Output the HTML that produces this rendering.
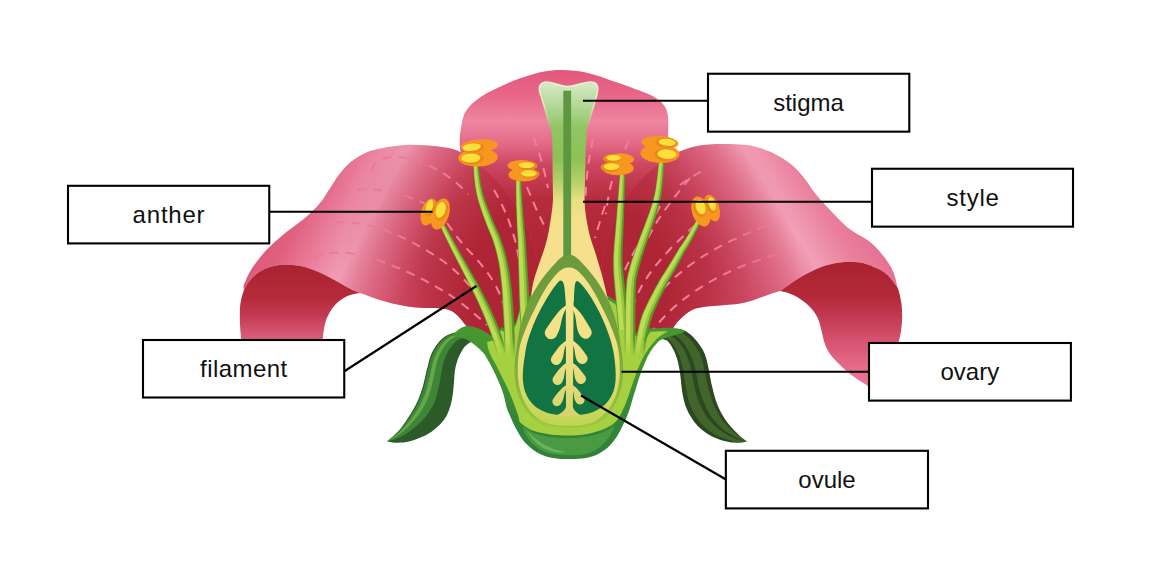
<!DOCTYPE html>
<html lang="en">
<head>
<meta charset="utf-8">
<title>Flower parts diagram</title>
<style>
  html, body { margin: 0; padding: 0; background: #ffffff; }
  body { width: 1168px; height: 561px; overflow: hidden; position: relative; }
  svg { position: absolute; left: 0; top: 0; display: block; }
  .lbl { font-family: "Liberation Sans", sans-serif; font-size: 24px; fill: #111111; text-anchor: middle; }
  .box { fill: #ffffff; stroke: #000000; stroke-width: 2.1; }
  .ln { stroke: #000000; stroke-width: 2.1; fill: none; }
  .dash { fill: none; stroke: url(#gDash); stroke-width: 2; stroke-dasharray: 9 7; stroke-linecap: butt; }
</style>
</head>
<body>
<svg width="1168" height="561" viewBox="0 0 1168 561">
<defs>
  <!-- PETAL GRADIENTS -->
  <linearGradient id="gBack" gradientUnits="userSpaceOnUse" x1="0" y1="70" x2="0" y2="260">
    <stop offset="0" stop-color="#e3577a"/>
    <stop offset="0.13" stop-color="#e86689"/>
    <stop offset="0.27" stop-color="#ee86a0"/>
    <stop offset="0.38" stop-color="#e56c89"/>
    <stop offset="0.5" stop-color="#cd4661"/>
    <stop offset="0.68" stop-color="#b62c3d"/>
    <stop offset="1" stop-color="#ad2433"/>
  </linearGradient>
  <linearGradient id="gLeft" gradientUnits="userSpaceOnUse" x1="250" y1="180" x2="471" y2="296">
    <stop offset="0" stop-color="#d94e6e"/>
    <stop offset="0.25" stop-color="#e0607f"/>
    <stop offset="0.41" stop-color="#ec88a4"/>
    <stop offset="0.5" stop-color="#f2a0b8"/>
    <stop offset="0.6" stop-color="#e9809c"/>
    <stop offset="0.76" stop-color="#da5c79"/>
    <stop offset="1" stop-color="#d04e6c"/>
  </linearGradient>
  <linearGradient id="gRight" gradientUnits="userSpaceOnUse" x1="920" y1="130" x2="708" y2="262">
    <stop offset="0" stop-color="#dc5676"/>
    <stop offset="0.3" stop-color="#e3668a"/>
    <stop offset="0.5" stop-color="#ea7f9c"/>
    <stop offset="0.64" stop-color="#f2a0b8"/>
    <stop offset="0.76" stop-color="#e67892"/>
    <stop offset="0.9" stop-color="#d95a78"/>
    <stop offset="1" stop-color="#d04e6c"/>
  </linearGradient>
  <linearGradient id="gUnderL" gradientUnits="userSpaceOnUse" x1="0" y1="262" x2="0" y2="400">
    <stop offset="0" stop-color="#a9222f"/>
    <stop offset="0.25" stop-color="#b42a3b"/>
    <stop offset="0.385" stop-color="#c23a52"/>
    <stop offset="0.49" stop-color="#d2506d"/>
    <stop offset="0.58" stop-color="#dd6280"/>
    <stop offset="1" stop-color="#ea6c8c"/>
  </linearGradient>
  <linearGradient id="gUnderR" gradientUnits="userSpaceOnUse" x1="0" y1="260" x2="0" y2="390">
    <stop offset="0" stop-color="#a9222f"/>
    <stop offset="0.28" stop-color="#b32939"/>
    <stop offset="0.45" stop-color="#c43c55"/>
    <stop offset="0.65" stop-color="#d95674"/>
    <stop offset="0.85" stop-color="#e86d8d"/>
    <stop offset="1" stop-color="#ee7898"/>
  </linearGradient>
  <!-- PISTIL GRADIENTS -->
  <linearGradient id="gStyle" gradientUnits="userSpaceOnUse" x1="0" y1="84" x2="0" y2="260">
    <stop offset="0" stop-color="#d3e9c4"/>
    <stop offset="0.1" stop-color="#b9dba0"/>
    <stop offset="0.25" stop-color="#90c564"/>
    <stop offset="0.42" stop-color="#8bc155"/>
    <stop offset="0.55" stop-color="#b4cf68"/>
    <stop offset="0.66" stop-color="#e6e082"/>
    <stop offset="0.78" stop-color="#f5e08c"/>
    <stop offset="1" stop-color="#f6e08d"/>
  </linearGradient>
  <linearGradient id="gFade" gradientUnits="userSpaceOnUse" x1="0" y1="338" x2="0" y2="357">
    <stop offset="0" stop-color="#fff"/>
    <stop offset="1" stop-color="#000"/>
  </linearGradient>
  <mask id="mFil" maskUnits="userSpaceOnUse" x="400" y="100" width="340" height="300">
    <rect x="400" y="100" width="340" height="300" fill="url(#gFade)"/>
  </mask>
  <linearGradient id="gRim" gradientUnits="userSpaceOnUse" x1="0" y1="82" x2="0" y2="128">
    <stop offset="0" stop-color="#e9f2cf"/>
    <stop offset="0.5" stop-color="#e3efc4" stop-opacity=".9"/>
    <stop offset="1" stop-color="#cfe6a0" stop-opacity="0"/>
  </linearGradient>
  <linearGradient id="gYel" gradientUnits="userSpaceOnUse" x1="0" y1="268" x2="0" y2="421">
    <stop offset="0" stop-color="#f6e28a"/>
    <stop offset="0.45" stop-color="#f0e07f"/>
    <stop offset="0.75" stop-color="#dcdc68"/>
    <stop offset="1" stop-color="#c2d556"/>
  </linearGradient>
  <linearGradient id="gOlive" gradientUnits="userSpaceOnUse" x1="0" y1="255" x2="0" y2="424">
    <stop offset="0" stop-color="#6b9a3e"/>
    <stop offset="0.5" stop-color="#73a23c"/>
    <stop offset="0.8" stop-color="#8cba3c"/>
    <stop offset="1" stop-color="#9cc83e"/>
  </linearGradient>
  <linearGradient id="gOv" gradientUnits="userSpaceOnUse" x1="0" y1="300" x2="0" y2="417">
    <stop offset="0" stop-color="#f7e38b"/>
    <stop offset="0.45" stop-color="#f1e083"/>
    <stop offset="1" stop-color="#d5d368"/>
  </linearGradient>
  <radialGradient id="gDash" gradientUnits="userSpaceOnUse" cx="568" cy="275" r="250">
    <stop offset="0" stop-color="#f4829f"/>
    <stop offset="0.45" stop-color="#f3819e"/>
    <stop offset="0.7" stop-color="#ec7a98" stop-opacity=".9"/>
    <stop offset="1" stop-color="#e87694" stop-opacity=".75"/>
  </radialGradient>
  <radialGradient id="gCore" gradientUnits="userSpaceOnUse" cx="568" cy="292" r="235">
    <stop offset="0" stop-color="#ad2433"/>
    <stop offset="0.42" stop-color="#ae2535"/>
    <stop offset="0.6" stop-color="#b52b3d" stop-opacity=".8"/>
    <stop offset="0.78" stop-color="#c03a50" stop-opacity=".38"/>
    <stop offset="1" stop-color="#c94560" stop-opacity="0"/>
  </radialGradient>
  <linearGradient id="gRimG" gradientUnits="userSpaceOnUse" x1="0" y1="335" x2="0" y2="445">
    <stop offset="0" stop-color="#469632"/>
    <stop offset="0.45" stop-color="#3f9034"/>
    <stop offset="0.8" stop-color="#328538"/>
    <stop offset="1" stop-color="#2f8238"/>
  </linearGradient>
</defs>

<!-- ================= FLOWER ================= -->
<g id="flower">
  <!-- back petal -->
  <path d="M461,154 C459,144 459.500,135 461.200,126.800 C462,122 463,117.500 464.500,113.500 C467.500,108 472,103 477.900,99 C484,94.500 491,91 497.900,87.800 C504,85 511,81.500 518,78.900 C525,76.500 533,74 540.200,72.200 C548,70.500 555,70 562.500,70 C570,70 578,71 584.800,72.200 C592,73.800 600,76.500 607,78.900 C614,81.500 622,84 629.300,86.700 C637,89.500 645,92.500 651.600,95.600 C657,98.500 662,102 665,106.800 C668,112 668.500,118 668.300,124.600 L668,136 L672,156 L650,345 L490,345 Z" fill="url(#gBack)"/>

  <!-- left petal top surface -->
  <path d="M461,152.5 C455,149 450,148 445,147.5 C432,145.5 418,144.5 405,145 C392,146 380,148 370,151 C360,155 352,160 345,167.500 C336,177 330,189 322.5,200 C316,208 310,214 302.5,220 C295,226 287,231 280,237.500 C272,244 266,250 260,257.500 C253,266 248,274 245,282.500 C243,285 243.500,288 244,290 C247,283 251,279 255,275 C260,271 265,268.500 270,267 C275,265.500 280,264.500 285,264.500 C292,264.500 299,265.500 305,267 C312,269 319,272 325,275 C332,278.500 339,282.500 345,286 C350,289 355,291 360,293 C367,295.500 374,298 380,300 C388,302.500 397,304.500 405,306 C413,307.500 422,308 430,308 C436,308 442,308.300 447,309.300 C451,310.500 454.500,312.500 457,315 C460,318 463,321.500 465,324.500 C468,328 472,331 477,333.500 L520,345 L548,345 L538,262 C528,216 502,176 461,152.500 Z" fill="url(#gLeft)"/>
  <path d="M461,152.5 C455,149 450,148 445,147.5 C432,145.5 418,144.5 405,145 C392,146 380,148 370,151 C360,155 352,160 345,167.500 C336,177 330,189 322.5,200 C316,208 310,214 302.5,220 C295,226 287,231 280,237.500 C272,244 266,250 260,257.500 C253,266 248,274 245,282.500 C243,285 243.500,288 244,290 C247,283 251,279 255,275 C260,271 265,268.500 270,267 C275,265.500 280,264.500 285,264.500 C292,264.500 299,265.500 305,267 C312,269 319,272 325,275 C332,278.500 339,282.500 345,286 C350,289 355,291 360,293 C367,295.500 374,298 380,300 C388,302.500 397,304.500 405,306 C413,307.500 422,308 430,308 C436,308 442,308.300 447,309.300 C451,310.500 454.500,312.500 457,315 C460,318 463,321.500 465,324.500 C468,328 472,331 477,333.500 L520,345 L548,345 L538,262 C528,216 502,176 461,152.500 Z" fill="url(#gCore)"/>
  <!-- left petal underside -->
  <path d="M244,290 C247,283 251,279 255,275 C260,271 265,268.500 270,267 C275,265.500 280,264.500 285,264.500 C292,264.500 299,265.500 305,267 C312,269 319,272 325,275 C332,278.500 339,282.500 345,286 C350,289 355,291 360,293 C355,293.500 351,294.500 347.500,296 C342,298.500 338,301.500 335,305 C331,309.500 328,315 326,320 C324,327 323,334 322.500,345 L242,345 C240,332 239.500,319 240,307.500 C240.500,301 242,295 244,290 Z" fill="url(#gUnderL)"/>

  <!-- right petal top surface -->
  <path d="M672,156 C674,154 675.500,153 677,152.500 C684,149.500 690,147.500 697,146 C705,144.500 714,144 722,144 C730,144 739,144 747,145 C756,146.500 764,149 772,152.500 C779,156 786,160 792,165 C800,172 807,181 812.500,190 C818,197 824,204 830,210 C836,216 841,222 847.500,227.500 C854,232.500 861,236 867.500,240 C873,244 878,249 882.500,255 C886,259 890,265 892.500,270 C895,275 896,281 897.500,287.500 C893,281 890,277.500 887.500,275 C883,271 879,269 875,267.500 C870,265 865,263.500 860,262.500 C853,261.500 846,261.500 840,262.500 C833,263.500 826,265 820,267.500 C813,270 806,274 800,277.500 C793,281.500 786,287 780,291 C775,292.500 770,294 765,296 C758,298.500 752,301 745,302.500 C738,304 732,304.500 725,305 C717,305.500 708,306 700,307.500 C697,308 694,309 692,310 C686,313 681,318 677,322.500 C674,326 672,330 670,334 L640,345 L592,345 L602,262 C610,216 634,176 672,156 Z" fill="url(#gRight)"/>
  <path d="M672,156 C674,154 675.500,153 677,152.500 C684,149.500 690,147.500 697,146 C705,144.500 714,144 722,144 C730,144 739,144 747,145 C756,146.500 764,149 772,152.500 C779,156 786,160 792,165 C800,172 807,181 812.500,190 C818,197 824,204 830,210 C836,216 841,222 847.500,227.500 C854,232.500 861,236 867.500,240 C873,244 878,249 882.500,255 C886,259 890,265 892.500,270 C895,275 896,281 897.500,287.500 C893,281 890,277.500 887.500,275 C883,271 879,269 875,267.500 C870,265 865,263.500 860,262.500 C853,261.500 846,261.500 840,262.500 C833,263.500 826,265 820,267.500 C813,270 806,274 800,277.500 C793,281.500 786,287 780,291 C775,292.500 770,294 765,296 C758,298.500 752,301 745,302.500 C738,304 732,304.500 725,305 C717,305.500 708,306 700,307.500 C697,308 694,309 692,310 C686,313 681,318 677,322.500 C674,326 672,330 670,334 L640,345 L592,345 L602,262 C610,216 634,176 672,156 Z" fill="url(#gCore)"/>
  <!-- right petal underside -->
  <path d="M780,291 C786,287 793,281.500 800,277.500 C806,274 813,270 820,267.500 C826,265 833,263.500 840,262.500 C846,261.500 853,261.500 860,262.500 C865,263.500 870,265 875,267.500 C879,269 883,271 887.500,275 C890,277.500 893,281 897.500,287.500 C899,291 900.500,297 901.500,304 C902.500,312 902.500,322 901,331 C900,338 898,344 896,350 L875,392 C868,385 861,382 855,377.500 C850,374 844,369.500 840,365 C835,360 830,355 827.500,350 C825,345 823.500,340 822.500,335 C821,329 820,323 817.500,317.500 C815,312 810,306.500 805,302.500 C800,298.500 795,295.500 790,293.750 C787,292.500 783,291.500 780,291 Z" fill="url(#gUnderR)"/>

  <!-- dashed veins -->
  <g id="veins">
    <path class="dash" d="M372,170 C373,163 380,158 391,157 C405,156 418,160 430,166 C445,173 458,183 468,194"/>
    <path class="dash" d="M332,205 C334,197 340,192 350,190 C365,188 380,189 395,193 C408,196 420,201 432,207"/>
    <path class="dash" d="M312.500,241 C313,232 322,224 335,222.500 C355,221 375,226 392,233 C412,241 430,252 445,262.500 C455,270 463,278 470,286"/>
    <path class="dash" d="M315,259 C318,254 330,252 342.500,252.500 C362,254 382,261 400,268.750 C420,277 437,287 450,295 C463,304 475,314 487,325"/>
    <path class="dash" d="M447,223 C456,236 464,246 472,254 C480,263 487,271 493,281 C499,291 503,301 506,312"/>
    <path class="dash" d="M494,190 C503,205 510,222 515,240 C518,252 520,264 521,276"/>
    <path class="dash" d="M521.500,108 C528,124 535,140 540,156 C543.500,168 546,178 548,188"/>
    <path class="dash" d="M527,187 C531,197 535,206 538,213 C541,219 543.500,224 546,229"/>
    <path class="dash" d="M600,108 C596,124 592,142 589,160 C587,172 586,186 585.500,198"/>
    <path class="dash" d="M605,206 C601,217 598,228 595,238"/>
    <path class="dash" d="M635,126 C631,135 627,144 624,152"/>
    <path class="dash" d="M612,181 C609,192 607,204 606,214"/>
    <path class="dash" d="M660,206 C654,218 647,230 641,240 C634,252 627,264 622,277"/>
    <path class="dash" d="M695,225 C687,233 679,240 671,248 C662,258 653,268 646,279 C640,288 636,297 633,306"/>
    <path class="dash" d="M766,226 C756,229.500 746,234 735,239 C720,246 706,254 693,263 C680,272 668,283 659,294 C652,303 647,312 643,322"/>
    <path class="dash" d="M776,254 C765,258 755,261.500 745,265 C730,271 716,278 703,286 C690,294 678,303 668,313 C661,320 655,327 650,334"/>
    <path class="dash" d="M680,185 C688,179 696,174 706,169"/>
    <path class="dash" d="M690,178 C680,190 668,205 658,220 C650,233 643,248 637,262"/>
  </g>

  <!-- sepals -->
  <g id="sepals">
    <!--SEP-->
    <path d="M387.5,441.0 L389.4,439.4 L391.3,437.8 L393.1,436.2 L394.9,434.5 L396.7,432.8 L398.4,431.0 L400.1,429.2 L401.6,427.3 L403.1,425.3 L404.5,423.3 L405.9,421.2 L407.2,419.2 L408.6,417.1 L409.9,415.0 L411.2,412.9 L412.5,410.8 L413.7,408.7 L414.9,406.5 L416.1,404.3 L417.1,402.1 L418.1,399.9 L419.1,397.6 L419.9,395.3 L420.8,393.0 L421.6,390.6 L422.3,388.3 L423.0,385.9 L423.6,383.5 L424.2,381.1 L424.8,378.7 L425.3,376.3 L425.9,373.9 L426.4,371.5 L427.0,369.1 L427.7,366.7 L428.2,364.3 L428.8,361.9 L429.4,359.5 L430.2,357.2 L431.0,354.9 L432.0,352.6 L433.1,350.4 L434.4,348.3 L435.8,346.3 L437.2,344.2 L438.7,342.3 L440.3,340.5 L442.1,338.7 L444.0,337.2 L446.1,335.8 L448.3,334.7 L450.6,333.8 L452.9,333.1 L455.3,332.4 L457.7,331.9 L460.2,331.5 L462.6,331.3 L465.1,331.1 L467.5,331.0 L470.0,331.0 L484.0,338.0 L481.4,338.8 L478.9,339.7 L476.3,340.5 L473.7,341.3 L471.1,342.1 L468.7,343.3 L466.6,344.9 L464.6,346.8 L463.0,349.0 L461.7,351.3 L460.3,353.7 L459.2,356.1 L458.1,358.6 L457.2,361.2 L456.4,363.7 L455.7,366.4 L455.2,369.0 L454.8,371.7 L454.5,374.4 L454.3,377.1 L454.1,379.8 L453.9,382.5 L453.7,385.2 L453.5,387.9 L453.2,390.6 L452.9,393.2 L452.5,395.9 L452.1,398.6 L451.6,401.2 L450.9,403.9 L450.2,406.5 L449.4,409.1 L448.5,411.6 L447.4,414.1 L446.2,416.5 L444.7,418.7 L443.1,420.9 L441.3,423.0 L439.5,425.0 L437.5,426.8 L435.5,428.6 L433.4,430.3 L431.2,431.9 L428.9,433.3 L426.6,434.7 L424.2,435.9 L421.7,437.1 L419.2,438.1 L416.7,439.1 L414.1,439.9 L411.5,440.7 L408.9,441.4 L406.3,441.9 L403.6,442.4 L400.9,442.6 L398.2,442.8 L395.5,442.7 L392.8,442.5 L390.1,442.1 L387.5,441.5 Z" fill="#2c5a28"/>
    <path d="M387.5,441.0 L389.4,439.5 L391.3,438.0 L393.2,436.4 L395.1,434.8 L396.9,433.2 L398.6,431.5 L400.3,429.7 L401.9,427.9 L403.5,425.9 L404.9,423.9 L406.3,421.9 L407.7,419.9 L409.1,417.9 L410.5,415.8 L411.8,413.8 L413.1,411.7 L414.4,409.6 L415.7,407.5 L416.8,405.3 L418.0,403.1 L419.0,400.9 L420.0,398.6 L420.8,396.3 L421.7,394.0 L422.6,391.7 L423.3,389.3 L424.0,386.9 L424.7,384.5 L425.2,382.1 L425.8,379.7 L426.4,377.3 L426.9,374.9 L427.5,372.5 L428.1,370.1 L428.7,367.7 L429.2,365.3 L429.8,362.9 L430.4,360.5 L431.1,358.1 L432.0,355.8 L432.9,353.5 L434.0,351.3 L435.3,349.2 L436.6,347.1 L438.0,345.0 L439.4,343.1 L441.1,341.2 L442.8,339.4 L444.7,337.8 L446.7,336.4 L448.9,335.3 L451.1,334.3 L453.5,333.5 L455.8,332.9 L458.3,332.3 L460.7,331.9 L463.2,331.6 L465.6,331.5 L468.1,331.3 L470.6,331.3 L477.0,334.5 L474.5,334.9 L472.0,335.4 L469.4,335.9 L466.9,336.4 L464.4,337.0 L462.0,337.9 L459.7,339.0 L457.6,340.3 L455.7,341.8 L453.9,343.6 L452.2,345.4 L450.6,347.4 L449.2,349.5 L447.9,351.7 L446.8,354.0 L445.8,356.3 L444.8,358.7 L444.0,361.1 L443.3,363.5 L442.7,366.0 L442.1,368.5 L441.7,371.0 L441.2,373.5 L440.8,376.1 L440.4,378.6 L440.0,381.2 L439.5,383.7 L439.0,386.2 L438.4,388.8 L437.8,391.3 L437.2,393.8 L436.5,396.3 L435.7,398.7 L434.9,401.2 L433.9,403.6 L432.7,405.9 L431.5,408.1 L430.2,410.3 L428.8,412.4 L427.3,414.5 L425.8,416.5 L424.2,418.4 L422.5,420.3 L420.7,422.1 L418.9,423.8 L417.0,425.5 L415.1,427.1 L413.2,428.6 L411.3,430.1 L409.3,431.6 L407.3,433.0 L405.3,434.3 L403.2,435.6 L401.0,436.7 L398.8,437.7 L396.6,438.6 L394.3,439.5 L392.0,440.2 L389.8,440.8 L387.5,441.2 Z" fill="#3d8537"/>
    <path d="M387.5,441.1 L389.5,439.8 L391.5,438.5 L393.5,437.1 L395.4,435.7 L397.3,434.2 L399.2,432.6 L400.9,431.0 L402.7,429.3 L404.3,427.5 L405.9,425.6 L407.4,423.7 L408.9,421.8 L410.4,419.9 L411.9,417.9 L413.3,416.0 L414.8,414.0 L416.2,411.9 L417.5,409.9 L418.8,407.7 L420.0,405.6 L421.1,403.4 L422.2,401.1 L423.1,398.9 L424.1,396.6 L425.0,394.2 L425.8,391.9 L426.6,389.5 L427.2,387.1 L427.9,384.7 L428.4,382.2 L429.0,379.8 L429.5,377.4 L430.1,374.9 L430.7,372.5 L431.2,370.1 L431.7,367.6 L432.3,365.2 L432.8,362.8 L433.5,360.4 L434.3,358.0 L435.2,355.7 L436.2,353.4 L437.3,351.2 L438.6,349.1 L439.9,347.0 L441.3,344.9 L442.8,343.0 L444.5,341.2 L446.3,339.5 L448.3,338.0 L450.3,336.7 L452.5,335.6 L454.8,334.7 L457.2,334.0 L459.6,333.4 L462.1,332.9 L464.5,332.6 L467.0,332.3 L469.5,332.1 L472.0,332.0 L473.8,332.9 L471.3,333.1 L468.8,333.4 L466.3,333.8 L463.8,334.2 L461.3,334.7 L458.9,335.4 L456.6,336.3 L454.4,337.3 L452.3,338.6 L450.3,340.0 L448.4,341.6 L446.7,343.4 L445.1,345.4 L443.7,347.4 L442.4,349.5 L441.2,351.7 L440.0,353.9 L439.0,356.2 L438.1,358.5 L437.3,360.9 L436.6,363.3 L436.0,365.7 L435.5,368.2 L435.0,370.7 L434.6,373.2 L434.0,375.6 L433.5,378.1 L432.9,380.6 L432.4,383.0 L431.8,385.5 L431.2,388.0 L430.6,390.4 L429.9,392.8 L429.1,395.2 L428.2,397.6 L427.2,399.9 L426.2,402.2 L425.1,404.4 L423.9,406.6 L422.6,408.8 L421.3,410.9 L419.9,412.9 L418.4,414.9 L416.9,416.9 L415.3,418.8 L413.7,420.7 L412.1,422.5 L410.5,424.3 L408.8,426.0 L407.1,427.8 L405.4,429.5 L403.6,431.1 L401.8,432.6 L399.8,434.1 L397.8,435.5 L395.8,436.7 L393.8,438.0 L391.7,439.1 L389.6,440.1 L387.5,441.1 Z" fill="#66a849"/>
    <path d="M747.0,441.5 L744.9,440.1 L742.9,438.6 L740.9,437.0 L739.1,435.3 L737.4,433.5 L735.6,431.7 L733.8,430.0 L732.1,428.1 L730.4,426.3 L728.8,424.3 L727.3,422.4 L725.8,420.3 L724.4,418.2 L723.1,416.1 L721.8,413.9 L720.6,411.7 L719.5,409.5 L718.5,407.2 L717.5,404.9 L716.6,402.5 L715.8,400.2 L715.0,397.8 L714.3,395.3 L713.7,392.9 L713.1,390.5 L712.5,388.0 L711.9,385.6 L711.3,383.2 L710.8,380.7 L710.4,378.2 L709.9,375.8 L709.5,373.3 L709.0,370.8 L708.5,368.3 L708.0,365.9 L707.5,363.4 L706.9,361.0 L706.3,358.6 L705.5,356.2 L704.7,353.8 L703.6,351.5 L702.5,349.3 L701.2,347.2 L699.7,345.1 L698.2,343.1 L696.7,341.1 L695.1,339.2 L693.4,337.3 L691.6,335.6 L689.7,333.9 L687.7,332.4 L685.6,331.1 L683.3,329.9 L680.9,329.3 L678.4,328.8 L675.9,328.7 L673.4,328.8 L670.9,329.0 L668.4,329.4 L666.0,330.0 L660.0,338.0 L662.4,338.9 L664.8,339.8 L667.2,340.6 L668.9,342.6 L670.4,344.6 L671.8,346.8 L673.0,349.0 L674.2,351.3 L675.2,353.7 L676.1,356.1 L677.0,358.5 L677.7,361.0 L678.3,363.5 L678.8,366.0 L679.3,368.5 L679.7,371.0 L680.1,373.6 L680.4,376.1 L680.7,378.7 L681.0,381.2 L681.2,383.8 L681.5,386.3 L681.8,388.9 L682.2,391.4 L682.6,393.9 L683.1,396.5 L683.6,399.0 L684.2,401.5 L684.9,403.9 L685.7,406.4 L686.7,408.8 L687.7,411.1 L688.9,413.4 L690.1,415.6 L691.5,417.8 L692.9,419.9 L694.4,422.0 L696.0,424.0 L697.7,426.0 L699.6,427.7 L701.5,429.4 L703.5,431.0 L705.6,432.6 L707.7,434.0 L709.9,435.3 L712.1,436.6 L714.5,437.6 L716.9,438.5 L719.3,439.4 L721.7,440.2 L724.2,440.9 L726.7,441.5 L729.2,442.0 L731.7,442.4 L734.3,442.6 L736.9,442.8 L739.4,442.7 L742.0,442.5 L744.5,442.1 L747.0,441.5 Z" fill="#2b4820"/>
    <path d="M747.0,441.5 L744.8,440.4 L742.8,439.2 L740.7,437.8 L738.8,436.3 L737.0,434.8 L735.1,433.2 L733.2,431.6 L731.3,430.0 L729.5,428.3 L727.8,426.6 L726.1,424.8 L724.5,422.9 L723.0,421.0 L721.5,419.0 L720.1,416.9 L718.8,414.8 L717.5,412.7 L716.4,410.5 L715.2,408.3 L714.2,406.1 L713.2,403.8 L712.4,401.4 L711.5,399.1 L710.8,396.7 L710.1,394.3 L709.4,391.9 L708.7,389.5 L708.0,387.1 L707.5,384.6 L706.9,382.2 L706.4,379.7 L705.9,377.2 L705.5,374.8 L705.0,372.3 L704.5,369.8 L703.9,367.4 L703.4,364.9 L702.8,362.4 L702.1,360.0 L701.3,357.7 L700.4,355.3 L699.4,353.1 L698.2,350.8 L696.9,348.7 L695.6,346.6 L694.2,344.6 L692.7,342.6 L691.2,340.6 L689.5,338.8 L687.8,337.0 L685.9,335.4 L684.0,333.9 L681.9,332.6 L679.6,331.7 L677.3,331.1 L674.9,330.6 L672.6,330.4 L670.1,330.5 L667.6,330.8 L665.2,331.1 L663.4,333.4 L665.9,333.5 L668.3,333.6 L670.8,333.9 L672.9,334.7 L675.0,335.6 L677.0,336.8 L678.9,338.2 L680.7,339.8 L682.3,341.6 L683.9,343.4 L685.3,345.4 L686.6,347.5 L687.9,349.6 L689.0,351.8 L690.1,354.0 L691.1,356.3 L692.1,358.5 L693.0,360.8 L693.8,363.2 L694.5,365.6 L695.1,368.0 L695.6,370.5 L696.1,373.0 L696.6,375.5 L697.1,378.0 L697.6,380.4 L698.1,382.9 L698.6,385.4 L699.2,387.9 L699.8,390.3 L700.4,392.8 L701.2,395.2 L702.0,397.6 L702.9,399.9 L703.8,402.2 L704.8,404.5 L705.8,406.8 L706.8,409.1 L708.0,411.2 L709.3,413.4 L710.6,415.4 L712.0,417.5 L713.5,419.4 L715.1,421.3 L716.7,423.1 L718.4,424.9 L720.1,426.6 L721.9,428.2 L723.8,429.7 L725.8,431.2 L727.7,432.6 L729.8,433.9 L731.8,435.1 L734.0,436.3 L736.1,437.4 L738.1,438.5 L740.3,439.5 L742.5,440.3 L744.7,441.0 L747.0,441.5 Z" fill="#42652b"/>
    <path d="M747.0,441.5 L744.7,441.3 L742.4,440.9 L740.1,440.3 L737.8,439.6 L735.6,438.7 L733.4,437.8 L731.2,436.8 L729.0,435.8 L726.9,434.6 L724.8,433.4 L722.7,432.1 L720.7,430.7 L718.7,429.3 L716.8,427.8 L715.0,426.1 L713.2,424.4 L711.5,422.6 L709.9,420.8 L708.4,418.9 L706.9,416.9 L705.5,414.9 L704.2,412.7 L703.0,410.5 L701.9,408.3 L700.8,406.1 L699.7,403.8 L698.8,401.4 L697.9,399.1 L697.1,396.7 L696.3,394.3 L695.7,391.8 L695.1,389.4 L694.5,386.9 L694.0,384.4 L693.5,381.9 L693.1,379.4 L692.6,376.9 L692.2,374.4 L691.7,371.9 L691.1,369.4 L690.6,367.0 L689.9,364.6 L689.2,362.2 L688.3,359.9 L687.4,357.6 L686.5,355.3 L685.5,353.0 L684.4,350.8 L683.3,348.6 L682.0,346.5 L680.6,344.5 L679.1,342.6 L677.5,340.8 L675.7,339.3 L673.9,337.8 L671.9,336.6 L669.9,335.5 L667.4,335.1 L665.0,334.8 L662.6,334.6 L660.8,336.9 L663.3,337.6 L665.7,338.3 L668.1,339.0 L669.9,340.6 L671.5,342.4 L673.1,344.3 L674.5,346.4 L675.8,348.5 L677.0,350.7 L678.0,353.0 L679.0,355.3 L679.9,357.7 L680.6,360.1 L681.3,362.5 L682.0,364.9 L682.5,367.4 L683.0,369.9 L683.5,372.4 L683.9,374.9 L684.3,377.4 L684.6,379.9 L685.0,382.4 L685.3,385.0 L685.7,387.5 L686.2,390.0 L686.6,392.5 L687.2,395.0 L687.8,397.5 L688.4,400.0 L689.2,402.4 L690.0,404.8 L691.0,407.2 L692.1,409.5 L693.3,411.8 L694.5,414.0 L695.8,416.2 L697.2,418.3 L698.7,420.4 L700.2,422.3 L701.9,424.2 L703.7,426.0 L705.6,427.7 L707.5,429.3 L709.5,430.9 L711.6,432.3 L713.7,433.7 L715.9,434.9 L718.1,436.0 L720.4,437.0 L722.7,438.0 L725.1,438.8 L727.4,439.6 L729.8,440.3 L732.3,440.9 L734.7,441.4 L737.2,441.7 L739.6,441.9 L742.1,442.0 L744.6,441.8 L747.0,441.5 Z" fill="#42652b"/>
    <!--/SEP-->
  </g>






  <!-- receptacle -->
  <g id="receptacle">
    <path d="M452,336 C457,330 462,326.500 467,326 C474,326 481,329 487,333 L496,339 L501,327 L509,331 L516,322 L522,301 L530,296 L608,296 L616,301 L624,312 L634,331 L638,335 L645,338 L649,328.500 C654,328.500 658,328.500 663,328 C672,327 680,329 686,331.500 L672,336 C665,338 661,339 657.500,342.500 C652,348 648,355 645,362.500 C640,373 637.500,384 633.800,395 C632,401 630.500,407 628.400,412.800 C626.500,418 624,423 621.500,427.900 C619,433 616.500,437.500 613.300,441.600 C609.500,446.500 605,450.500 599.600,453.200 C595,455.800 590.500,457.300 585.900,458 C581,458.800 576.500,459 572,459 C567.500,459 563,459.200 558.500,458.700 C553.500,458.200 549,457.500 544.800,456 C539,453.800 534,451 529.700,447 C525.500,443.500 522.300,439.500 519.500,434.700 C516.800,430.500 514.500,426 512.600,421.700 C510.500,417.500 508.800,413 507,408.700 C505.500,404 505,399.500 503.700,395 C502.500,391.500 501.500,388 500,385 C496,375 491,365 485,355 C481,350 476,345 466,339 Z" fill="url(#gRimG)"/>
    <path d="M487,342 L492,340.500 L496,342 L501,330 L509,335 L516,325 L522,304 L531,299 L607,299 L615,304 L623,315 L633,334 L638,338 L645,341 L650,332 C656,331 662,331 668,331.500 C662,334 657,338 653.500,342.500 C647,350 643,357 640,364 C635,375 632,386 628.500,396 C626,403 623,410 620,416 L617.400,419.700 C615,422.500 613,424.500 610.500,425.800 C604,429.500 598,431.500 592.700,432.700 C586,434.500 579,435.400 572,435.400 C565,435.400 558,435.500 551.600,434.700 C544,433.500 537,432.500 531,430 C527,428 523,425 519.500,421.700 L518.500,417 C516.500,410 512,398 506.500,386 C502,377 497,366 491,356 C489,352 487.500,347 487,342 Z" fill="#a5d03f"/>
    <path d="M523,426.500 C527,429.500 530,431.500 533,432.800 C539,435.200 545.500,436.500 552,437.200 C558.500,437.900 565,437.900 572,437.900 C579,437.900 586,436.800 592,435.500 C598,434.200 603.500,432 608,429.700 C610.500,428.500 612.500,427 614.500,425 C614,428 612.800,430.500 611,433.500 C609,437.500 606.500,441 603,444.300 C599.500,447.800 595,450.800 590,452.700 C584.500,454.500 578,455.200 572,455.200 C566.500,455.200 561,455.300 556,454.600 C551.500,454 547,452.800 543,451 C539,449 535.500,446.500 532,443 C529,439.800 526.800,436.500 525,433 C524,431 523.300,428.800 523,426.500 Z" fill="#4a9a44"/>
    <path d="M527,430.500 C529.500,435.500 533,440.500 538,444.500 C543.500,448.800 550,451.500 557,452.500 C560,452.800 563,452.700 566,452.300 C556,450.500 547,446.800 539.500,441.500 C534.500,438 530.500,434.500 527,430.500 Z" fill="#6db95a" opacity=".85"/>
  </g>

  <!-- style + stigma -->
  <g id="pistil">
    <path d="M539.300,89 C539.300,84.500 542,82.200 546,82 C553,81.800 559,86.200 567.500,86.500 C576,86.200 584,81.800 591,82 C595.500,82.200 597.800,84.500 597.800,89 C597.500,93 596.500,97 595.500,100 C594,105 592.500,110 591.300,114 C589.500,120 588,125 587,128.500 C586.200,132 586.500,133 586.500,135 C586,145 585.500,152 585.500,160 L584.500,200 C585,210 586,218 587.500,225 C589,234 591.500,242 594.500,250 C597,258 599.500,267 602,275 C604,283 606,291 607.500,298 L610,306 L529,306 L531,298 C531.500,291 532.500,284 535,276 C538,267 541,258 544,250 C546.500,242 548.500,234 549.800,225 C551,218 552.300,210 553,200 L552.500,160 C552.500,152 552.500,145 552,135 C551.500,131 550.500,128 549.200,125.600 C548,120 547,116 545.700,111.400 C544,105 542.500,101 541.400,97 C540.300,94 539.300,92 539.300,89 Z" fill="url(#gStyle)"/>
    <path d="M549.200,125.600 C548,120 547,116 545.700,111.400 C544,105 542.500,101 541.400,97 C540.300,94 539.300,92 539.300,89 C539.300,84.500 542,82.200 546,82 C553,81.800 559,86.200 567.500,86.500 C576,86.200 584,81.800 591,82 C595.500,82.200 597.800,84.500 597.800,89 C597.500,93 596.500,97 595.500,100 C594,105 592.500,110 591.300,114 C589.500,120 588,125 587,128.500" fill="none" stroke="url(#gRim)" stroke-width="1.600"/>
    <rect x="563.300" y="90.700" width="7.800" height="173" fill="#5f9641"/>
  </g>

  <!-- filaments -->
  <g id="filaments" mask="url(#mFil)">
    <!--FIL-->
    <path d="M438.9,223.0 L441.1,228.0 L443.4,233.0 L445.8,238.0 L448.1,242.9 L450.5,247.8 L452.9,252.6 L455.3,257.3 L457.7,261.9 L460.0,266.5 L462.2,270.8 L464.4,275.1 L466.5,279.2 L468.5,283.1 L470.4,286.9 L472.5,290.9 L474.4,295.0 L476.3,299.0 L478.2,302.9 L479.9,306.9 L481.6,310.8 L483.3,314.7 L484.9,318.6 L486.4,322.5 L487.9,326.3 L489.4,330.1 L490.8,333.9 L492.2,337.7 L493.5,341.5 L493.8,342.6 L494.2,343.7 L494.5,344.8 L494.9,346.0 L495.3,347.1 L495.6,348.3 L496.0,349.4 L496.3,350.6 L496.7,351.7 L497.0,352.8 L497.4,354.0 L497.8,355.1 L498.1,356.3 L498.5,357.4 L507.5,354.6 L507.2,353.4 L506.8,352.3 L506.5,351.2 L506.1,350.0 L505.7,348.9 L505.4,347.7 L505.0,346.6 L504.7,345.4 L504.3,344.3 L504.0,343.2 L503.6,342.0 L503.2,340.9 L502.9,339.7 L502.5,338.5 L501.2,334.6 L499.8,330.7 L498.3,326.7 L496.8,322.8 L495.2,318.9 L493.5,315.0 L491.7,311.0 L489.9,307.1 L488.0,303.1 L486.0,299.2 L484.0,295.2 L481.9,291.2 L479.8,287.2 L477.6,283.1 L475.5,279.4 L473.3,275.5 L471.0,271.5 L468.7,267.4 L466.2,263.1 L463.7,258.7 L461.2,254.2 L458.6,249.6 L456.0,244.9 L453.4,240.2 L450.8,235.4 L448.2,230.6 L445.6,225.8 L443.1,221.0 Z" fill="#5a962c"/>
    <path d="M439.2,222.9 L441.4,227.9 L443.7,232.9 L446.1,237.9 L448.5,242.8 L450.9,247.6 L453.3,252.4 L455.7,257.1 L458.0,261.7 L460.3,266.3 L462.6,270.6 L464.8,274.9 L466.9,279.0 L469.0,282.9 L470.9,286.6 L472.9,290.7 L474.9,294.7 L476.8,298.7 L478.6,302.7 L480.4,306.7 L482.1,310.6 L483.8,314.5 L485.4,318.4 L486.9,322.3 L488.5,326.1 L490.0,329.9 L491.4,333.7 L492.7,337.5 L494.0,341.3 L494.4,342.4 L494.7,343.5 L495.1,344.7 L495.4,345.8 L495.8,347.0 L496.2,348.1 L496.5,349.2 L496.9,350.4 L497.2,351.5 L497.6,352.7 L497.9,353.8 L498.3,355.0 L498.7,356.1 L499.0,357.2 L505.5,355.2 L505.2,354.1 L504.8,352.9 L504.5,351.8 L504.1,350.6 L503.8,349.5 L503.4,348.3 L503.0,347.2 L502.7,346.1 L502.3,344.9 L502.0,343.8 L501.6,342.6 L501.3,341.5 L500.9,340.3 L500.5,339.2 L499.2,335.3 L497.8,331.4 L496.4,327.5 L494.8,323.6 L493.3,319.7 L491.6,315.8 L489.9,311.8 L488.1,307.9 L486.2,304.0 L484.3,300.0 L482.3,296.0 L480.3,292.0 L478.2,288.0 L476.0,284.0 L474.0,280.2 L471.8,276.3 L469.6,272.3 L467.2,268.1 L464.9,263.8 L462.4,259.4 L459.9,254.9 L457.4,250.3 L454.8,245.6 L452.3,240.8 L449.7,236.0 L447.2,231.2 L444.7,226.3 L442.2,221.4 Z" fill="#93c83a"/>
    <path d="M439.4,222.8 L441.6,227.8 L443.9,232.8 L446.3,237.7 L448.7,242.6 L451.1,247.5 L453.6,252.3 L456.0,257.0 L458.3,261.6 L460.7,266.1 L462.9,270.5 L465.1,274.7 L467.3,278.8 L469.3,282.7 L471.2,286.5 L473.3,290.5 L475.2,294.6 L477.2,298.6 L479.0,302.5 L480.8,306.5 L482.5,310.4 L484.2,314.3 L485.8,318.2 L487.4,322.1 L488.9,325.9 L490.4,329.7 L491.8,333.6 L493.2,337.4 L494.5,341.2 L494.8,342.2 L495.2,343.4 L495.5,344.5 L495.9,345.7 L496.2,346.8 L496.6,348.0 L497.0,349.1 L497.3,350.2 L497.7,351.4 L498.0,352.5 L498.4,353.7 L498.7,354.8 L499.1,356.0 L499.5,357.1 L503.3,355.9 L502.9,354.8 L502.6,353.6 L502.2,352.5 L501.8,351.3 L501.5,350.2 L501.1,349.1 L500.8,347.9 L500.4,346.8 L500.1,345.6 L499.7,344.5 L499.3,343.3 L499.0,342.2 L498.6,341.1 L498.3,339.9 L497.0,336.0 L495.6,332.2 L494.1,328.3 L492.6,324.4 L491.1,320.6 L489.4,316.7 L487.8,312.8 L486.0,308.8 L484.2,304.9 L482.3,301.0 L480.4,297.0 L478.4,293.0 L476.3,288.9 L474.2,284.9 L472.2,281.2 L470.1,277.3 L467.9,273.2 L465.6,269.0 L463.3,264.7 L460.9,260.2 L458.4,255.7 L455.9,251.0 L453.4,246.3 L450.9,241.5 L448.4,236.6 L446.0,231.8 L443.5,226.9 L441.1,221.9 Z" fill="#c0db58"/>
    <path d="M473.4,165.2 L473.5,168.3 L473.7,171.4 L473.8,174.3 L474.1,177.1 L474.3,179.8 L474.6,182.3 L474.9,184.9 L475.3,187.3 L475.6,189.7 L476.1,192.0 L476.5,194.3 L477.0,196.5 L477.6,198.8 L478.2,201.0 L479.1,204.1 L480.1,207.0 L481.0,209.9 L482.0,212.8 L483.0,215.5 L484.0,218.3 L484.9,220.9 L485.9,223.5 L486.9,226.0 L487.9,228.5 L488.9,230.9 L489.8,233.2 L490.8,235.5 L491.7,237.5 L492.5,240.0 L493.3,242.5 L494.1,245.0 L494.9,247.5 L495.6,250.0 L496.2,252.5 L496.8,255.0 L497.4,257.4 L497.9,259.9 L498.4,262.3 L498.8,264.7 L499.2,267.0 L499.5,269.3 L499.8,271.7 L500.1,274.0 L500.4,276.2 L500.6,278.4 L500.9,280.6 L501.1,282.7 L501.3,284.7 L501.5,286.8 L501.6,288.8 L501.8,290.7 L501.9,292.7 L502.1,294.6 L502.2,296.5 L502.3,298.4 L502.4,300.3 L502.5,303.6 L502.7,306.8 L502.9,310.1 L503.1,313.4 L503.3,316.9 L503.5,320.4 L503.7,324.1 L503.9,328.0 L504.1,332.1 L504.2,336.3 L504.4,340.9 L504.5,345.6 L504.6,350.7 L504.8,356.1 L515.2,355.9 L515.1,350.5 L515.0,345.4 L514.9,340.5 L514.7,336.0 L514.5,331.6 L514.4,327.5 L514.2,323.6 L514.0,319.9 L513.8,316.3 L513.6,312.8 L513.4,309.4 L513.2,306.1 L512.9,302.9 L512.6,299.7 L512.5,297.7 L512.3,295.8 L512.2,293.8 L512.0,291.8 L511.8,289.8 L511.5,287.8 L511.3,285.7 L511.0,283.7 L510.8,281.5 L510.5,279.4 L510.2,277.2 L509.9,275.0 L509.5,272.7 L509.2,270.3 L508.8,267.9 L508.3,265.4 L507.8,262.9 L507.3,260.4 L506.7,257.9 L506.1,255.3 L505.4,252.8 L504.7,250.2 L503.9,247.6 L503.1,245.0 L502.2,242.4 L501.3,239.8 L500.4,237.2 L499.3,234.5 L498.3,232.2 L497.3,230.0 L496.2,227.7 L495.2,225.4 L494.2,223.0 L493.1,220.6 L492.1,218.1 L491.0,215.5 L490.0,212.9 L488.9,210.2 L487.9,207.5 L486.8,204.7 L485.8,201.9 L484.8,199.0 L484.2,196.9 L483.6,194.9 L483.0,192.8 L482.5,190.6 L482.0,188.4 L481.5,186.2 L481.1,183.9 L480.7,181.5 L480.3,179.0 L479.9,176.4 L479.6,173.7 L479.3,170.9 L478.9,167.9 L478.6,164.8 Z" fill="#5a962c"/>
    <path d="M473.7,165.2 L473.8,168.3 L474.0,171.3 L474.2,174.2 L474.4,177.0 L474.7,179.7 L475.0,182.3 L475.3,184.8 L475.6,187.2 L476.0,189.6 L476.5,191.9 L476.9,194.2 L477.4,196.4 L478.0,198.7 L478.6,200.9 L479.5,203.9 L480.5,206.9 L481.4,209.8 L482.4,212.6 L483.4,215.4 L484.4,218.1 L485.4,220.7 L486.4,223.3 L487.3,225.8 L488.3,228.3 L489.3,230.7 L490.3,233.0 L491.2,235.3 L492.1,237.4 L493.0,239.8 L493.8,242.3 L494.6,244.9 L495.4,247.4 L496.1,249.9 L496.7,252.4 L497.3,254.8 L497.9,257.3 L498.4,259.7 L498.9,262.2 L499.4,264.5 L499.7,266.9 L500.1,269.3 L500.4,271.6 L500.7,273.9 L500.9,276.1 L501.2,278.3 L501.4,280.5 L501.6,282.6 L501.9,284.7 L502.0,286.7 L502.2,288.7 L502.4,290.7 L502.5,292.6 L502.7,294.5 L502.8,296.5 L502.9,298.4 L503.0,300.3 L503.2,303.5 L503.3,306.8 L503.5,310.0 L503.7,313.4 L503.9,316.8 L504.1,320.4 L504.3,324.1 L504.5,328.0 L504.7,332.0 L504.8,336.3 L505.0,340.8 L505.1,345.6 L505.3,350.7 L505.4,356.1 L512.9,355.9 L512.8,350.5 L512.7,345.4 L512.6,340.6 L512.4,336.0 L512.2,331.7 L512.1,327.6 L511.9,323.7 L511.7,320.0 L511.5,316.4 L511.3,312.9 L511.1,309.6 L510.9,306.3 L510.6,303.0 L510.4,299.8 L510.2,297.9 L510.1,295.9 L509.9,294.0 L509.8,292.0 L509.6,290.0 L509.4,288.0 L509.1,286.0 L508.9,283.9 L508.6,281.8 L508.4,279.7 L508.1,277.5 L507.8,275.3 L507.4,273.0 L507.1,270.6 L506.7,268.2 L506.3,265.8 L505.9,263.3 L505.3,260.8 L504.8,258.3 L504.2,255.8 L503.5,253.3 L502.8,250.7 L502.1,248.1 L501.3,245.6 L500.5,243.0 L499.6,240.4 L498.6,237.8 L497.6,235.1 L496.6,232.9 L495.6,230.7 L494.6,228.4 L493.6,226.1 L492.6,223.7 L491.5,221.2 L490.5,218.7 L489.5,216.1 L488.4,213.5 L487.4,210.8 L486.4,208.0 L485.3,205.2 L484.3,202.3 L483.3,199.4 L482.7,197.3 L482.1,195.2 L481.6,193.1 L481.1,190.9 L480.6,188.7 L480.1,186.4 L479.7,184.1 L479.3,181.7 L479.0,179.2 L478.6,176.6 L478.3,173.8 L478.0,171.0 L477.7,168.0 L477.5,164.9 Z" fill="#93c83a"/>
    <path d="M474.0,165.1 L474.1,168.3 L474.3,171.3 L474.5,174.2 L474.7,177.0 L475.0,179.7 L475.3,182.3 L475.6,184.7 L475.9,187.2 L476.3,189.5 L476.8,191.8 L477.2,194.1 L477.8,196.4 L478.3,198.6 L478.9,200.8 L479.9,203.8 L480.8,206.8 L481.8,209.7 L482.8,212.5 L483.7,215.3 L484.7,218.0 L485.7,220.6 L486.7,223.2 L487.7,225.7 L488.7,228.1 L489.7,230.5 L490.6,232.9 L491.6,235.1 L492.5,237.2 L493.4,239.7 L494.2,242.2 L495.0,244.7 L495.8,247.2 L496.5,249.8 L497.1,252.3 L497.8,254.7 L498.3,257.2 L498.9,259.6 L499.4,262.1 L499.8,264.5 L500.2,266.8 L500.6,269.2 L500.9,271.5 L501.1,273.8 L501.4,276.1 L501.7,278.3 L501.9,280.4 L502.1,282.6 L502.3,284.6 L502.5,286.7 L502.7,288.7 L502.9,290.6 L503.0,292.6 L503.2,294.5 L503.3,296.4 L503.4,298.3 L503.5,300.3 L503.7,303.5 L503.8,306.7 L504.1,310.0 L504.3,313.4 L504.5,316.8 L504.7,320.4 L504.8,324.1 L505.0,328.0 L505.2,332.0 L505.4,336.3 L505.5,340.8 L505.7,345.6 L505.8,350.7 L505.9,356.1 L510.3,356.0 L510.2,350.6 L510.1,345.5 L509.9,340.7 L509.8,336.1 L509.6,331.8 L509.4,327.8 L509.3,323.9 L509.1,320.1 L508.9,316.6 L508.7,313.1 L508.5,309.7 L508.2,306.4 L508.0,303.2 L507.8,300.0 L507.7,298.1 L507.6,296.1 L507.4,294.2 L507.2,292.2 L507.1,290.2 L506.9,288.2 L506.7,286.2 L506.4,284.2 L506.2,282.1 L506.0,280.0 L505.7,277.8 L505.4,275.6 L505.1,273.3 L504.8,271.0 L504.4,268.6 L504.0,266.2 L503.6,263.7 L503.1,261.3 L502.6,258.8 L502.0,256.3 L501.4,253.8 L500.7,251.3 L500.0,248.7 L499.2,246.2 L498.4,243.6 L497.6,241.1 L496.7,238.5 L495.7,235.9 L494.8,233.7 L493.8,231.5 L492.8,229.2 L491.8,226.8 L490.8,224.4 L489.7,222.0 L488.7,219.4 L487.7,216.8 L486.7,214.2 L485.7,211.4 L484.7,208.7 L483.7,205.8 L482.7,202.9 L481.7,199.9 L481.1,197.8 L480.5,195.6 L480.0,193.5 L479.5,191.3 L479.0,189.0 L478.6,186.7 L478.2,184.3 L477.8,181.9 L477.5,179.4 L477.2,176.7 L476.9,174.0 L476.6,171.1 L476.4,168.1 L476.2,165.0 Z" fill="#c0db58"/>
    <path d="M516.0,181.1 L515.9,185.2 L515.9,189.3 L515.9,193.4 L516.0,197.6 L516.0,201.8 L516.1,206.1 L516.2,210.3 L516.4,214.6 L516.5,218.8 L516.7,223.1 L516.9,227.4 L517.2,231.7 L517.4,236.0 L517.7,240.2 L517.8,244.3 L517.8,248.2 L517.9,251.8 L518.0,255.1 L518.1,258.3 L518.2,261.2 L518.2,264.0 L518.3,266.6 L518.4,269.0 L518.4,271.4 L518.5,273.7 L518.6,275.9 L518.7,278.1 L518.7,280.2 L518.8,283.4 L518.8,286.6 L518.9,289.9 L519.0,293.2 L519.1,296.5 L519.2,299.9 L519.4,303.4 L519.5,306.9 L519.7,310.5 L519.9,314.3 L520.2,318.1 L520.4,322.1 L520.7,326.1 L521.0,330.4 L531.0,329.6 L530.7,325.4 L530.4,321.4 L530.2,317.5 L529.9,313.7 L529.7,310.0 L529.5,306.4 L529.4,302.9 L529.2,299.5 L529.1,296.1 L528.9,292.8 L528.8,289.5 L528.6,286.3 L528.4,283.1 L528.3,279.8 L528.1,277.6 L528.0,275.5 L527.8,273.2 L527.7,271.0 L527.5,268.6 L527.4,266.1 L527.2,263.5 L527.0,260.8 L526.8,257.9 L526.6,254.7 L526.4,251.4 L526.2,247.8 L526.0,244.0 L525.7,239.8 L525.3,235.4 L524.9,231.1 L524.5,226.9 L524.1,222.6 L523.7,218.4 L523.4,214.2 L523.1,209.9 L522.8,205.7 L522.5,201.6 L522.2,197.4 L522.0,193.2 L521.7,189.1 L521.5,185.0 L521.2,180.9 Z" fill="#5a962c"/>
    <path d="M516.3,181.1 L516.3,185.1 L516.3,189.3 L516.3,193.4 L516.3,197.6 L516.4,201.8 L516.5,206.0 L516.7,210.3 L516.8,214.5 L517.0,218.8 L517.2,223.1 L517.4,227.4 L517.6,231.7 L517.9,236.0 L518.2,240.2 L518.2,244.3 L518.3,248.1 L518.4,251.7 L518.5,255.1 L518.6,258.2 L518.7,261.2 L518.8,263.9 L518.8,266.5 L518.9,269.0 L519.0,271.4 L519.1,273.7 L519.2,275.9 L519.2,278.1 L519.3,280.2 L519.4,283.4 L519.4,286.6 L519.5,289.8 L519.6,293.1 L519.7,296.5 L519.8,299.9 L520.0,303.3 L520.1,306.9 L520.3,310.5 L520.5,314.2 L520.8,318.1 L521.0,322.0 L521.3,326.1 L521.6,330.3 L528.8,329.8 L528.5,325.6 L528.2,321.5 L528.0,317.6 L527.7,313.8 L527.5,310.1 L527.3,306.5 L527.2,303.0 L527.0,299.6 L526.9,296.2 L526.7,292.9 L526.6,289.6 L526.5,286.3 L526.3,283.1 L526.2,279.9 L526.0,277.7 L525.9,275.6 L525.8,273.3 L525.6,271.1 L525.5,268.7 L525.4,266.2 L525.2,263.6 L525.1,260.9 L524.9,257.9 L524.7,254.8 L524.6,251.5 L524.4,247.9 L524.2,244.0 L524.0,239.9 L523.6,235.5 L523.2,231.3 L522.8,227.0 L522.5,222.7 L522.2,218.5 L521.9,214.3 L521.6,210.0 L521.3,205.8 L521.1,201.6 L520.8,197.4 L520.6,193.3 L520.4,189.2 L520.2,185.0 L520.1,181.0 Z" fill="#93c83a"/>
    <path d="M516.6,181.0 L516.5,185.1 L516.6,189.3 L516.6,193.4 L516.7,197.6 L516.8,201.8 L516.9,206.0 L517.0,210.3 L517.2,214.5 L517.3,218.8 L517.5,223.1 L517.8,227.4 L518.0,231.7 L518.3,236.0 L518.6,240.2 L518.7,244.3 L518.8,248.1 L518.9,251.7 L518.9,255.1 L519.0,258.2 L519.1,261.1 L519.2,263.9 L519.3,266.5 L519.4,269.0 L519.5,271.4 L519.5,273.7 L519.6,275.9 L519.7,278.0 L519.8,280.1 L519.8,283.3 L519.9,286.6 L520.0,289.8 L520.1,293.1 L520.2,296.5 L520.3,299.8 L520.5,303.3 L520.6,306.8 L520.8,310.5 L521.0,314.2 L521.3,318.0 L521.5,322.0 L521.8,326.1 L522.1,330.3 L526.3,330.0 L526.0,325.8 L525.7,321.7 L525.5,317.8 L525.2,313.9 L525.0,310.2 L524.8,306.6 L524.7,303.1 L524.5,299.7 L524.4,296.3 L524.3,293.0 L524.1,289.7 L524.0,286.4 L523.9,283.2 L523.8,280.0 L523.7,277.8 L523.6,275.7 L523.5,273.5 L523.3,271.2 L523.2,268.8 L523.1,266.3 L523.0,263.7 L522.9,261.0 L522.7,258.0 L522.6,254.9 L522.4,251.6 L522.3,248.0 L522.1,244.1 L521.9,240.0 L521.6,235.7 L521.2,231.4 L520.9,227.1 L520.6,222.9 L520.4,218.6 L520.1,214.4 L519.9,210.1 L519.7,205.9 L519.5,201.7 L519.3,197.5 L519.1,193.3 L519.0,189.2 L518.9,185.1 L518.8,181.0 Z" fill="#c0db58"/>
    <path d="M619.8,174.9 L619.4,179.2 L619.0,183.7 L618.6,188.3 L618.3,193.0 L617.9,197.7 L617.5,202.5 L617.1,207.3 L616.7,212.1 L616.3,216.9 L615.9,221.6 L615.5,226.3 L615.2,230.9 L614.8,235.4 L614.4,239.7 L614.1,242.9 L613.8,246.0 L613.6,249.2 L613.4,252.2 L613.3,255.2 L613.2,258.2 L613.1,261.2 L613.1,264.0 L613.1,266.9 L613.2,269.7 L613.3,272.5 L613.5,275.2 L613.7,277.9 L614.0,280.5 L614.2,283.7 L614.5,287.0 L614.8,290.2 L615.1,293.5 L615.4,296.8 L615.7,300.2 L616.0,303.6 L616.3,307.1 L616.7,310.7 L617.0,314.4 L617.3,318.2 L617.6,322.1 L617.9,326.2 L618.3,330.4 L628.7,329.6 L628.4,325.4 L628.1,321.3 L627.8,317.3 L627.4,313.5 L627.1,309.8 L626.8,306.2 L626.5,302.6 L626.2,299.2 L625.8,295.8 L625.5,292.5 L625.2,289.2 L624.8,285.9 L624.4,282.7 L624.0,279.5 L623.7,276.9 L623.4,274.4 L623.1,271.8 L622.9,269.2 L622.8,266.5 L622.6,263.8 L622.5,261.1 L622.5,258.3 L622.5,255.5 L622.5,252.5 L622.6,249.6 L622.7,246.6 L622.8,243.5 L623.0,240.3 L623.2,235.9 L623.4,231.4 L623.6,226.8 L623.8,222.1 L624.0,217.3 L624.1,212.5 L624.3,207.7 L624.5,202.9 L624.7,198.1 L624.8,193.3 L624.9,188.6 L625.1,184.0 L625.2,179.5 L625.2,175.1 Z" fill="#5a962c"/>
    <path d="M620.1,174.9 L619.7,179.2 L619.4,183.7 L619.0,188.3 L618.7,193.0 L618.3,197.7 L617.9,202.5 L617.5,207.3 L617.2,212.1 L616.8,216.9 L616.4,221.7 L616.0,226.3 L615.6,230.9 L615.3,235.4 L614.9,239.7 L614.6,242.9 L614.4,246.1 L614.2,249.2 L614.0,252.3 L613.8,255.3 L613.7,258.2 L613.7,261.1 L613.7,264.0 L613.7,266.9 L613.8,269.7 L613.9,272.4 L614.1,275.2 L614.3,277.9 L614.6,280.5 L614.8,283.7 L615.1,286.9 L615.4,290.1 L615.7,293.4 L616.0,296.7 L616.3,300.1 L616.6,303.5 L617.0,307.1 L617.3,310.7 L617.6,314.4 L617.9,318.2 L618.3,322.1 L618.6,326.1 L618.9,330.4 L626.4,329.8 L626.1,325.6 L625.8,321.5 L625.5,317.5 L625.1,313.7 L624.8,310.0 L624.5,306.4 L624.2,302.9 L623.9,299.4 L623.5,296.0 L623.2,292.7 L622.9,289.4 L622.5,286.2 L622.2,282.9 L621.8,279.7 L621.5,277.1 L621.2,274.6 L621.0,271.9 L620.8,269.3 L620.6,266.6 L620.5,263.9 L620.5,261.1 L620.4,258.3 L620.5,255.4 L620.5,252.5 L620.6,249.5 L620.7,246.5 L620.9,243.4 L621.1,240.2 L621.3,235.8 L621.6,231.3 L621.8,226.7 L622.0,222.0 L622.3,217.2 L622.5,212.4 L622.7,207.6 L623.0,202.8 L623.2,198.0 L623.4,193.2 L623.6,188.5 L623.7,183.9 L623.9,179.4 L624.0,175.1 Z" fill="#93c83a"/>
    <path d="M620.4,174.9 L620.0,179.2 L619.7,183.7 L619.3,188.3 L619.0,193.0 L618.6,197.7 L618.3,202.5 L617.9,207.3 L617.5,212.1 L617.2,216.9 L616.8,221.7 L616.4,226.4 L616.1,230.9 L615.7,235.4 L615.4,239.8 L615.1,242.9 L614.8,246.1 L614.6,249.2 L614.4,252.3 L614.3,255.3 L614.2,258.2 L614.2,261.1 L614.2,264.0 L614.2,266.9 L614.3,269.6 L614.4,272.4 L614.6,275.1 L614.8,277.8 L615.1,280.4 L615.4,283.6 L615.6,286.8 L615.9,290.1 L616.2,293.4 L616.5,296.7 L616.9,300.1 L617.2,303.5 L617.5,307.0 L617.8,310.6 L618.1,314.3 L618.5,318.1 L618.8,322.0 L619.1,326.1 L619.4,330.3 L623.8,330.0 L623.5,325.8 L623.2,321.7 L622.8,317.8 L622.5,313.9 L622.2,310.2 L621.9,306.6 L621.6,303.1 L621.2,299.6 L620.9,296.3 L620.6,292.9 L620.3,289.7 L620.0,286.4 L619.6,283.2 L619.3,280.0 L619.0,277.4 L618.7,274.8 L618.5,272.1 L618.4,269.4 L618.2,266.7 L618.2,263.9 L618.1,261.1 L618.1,258.3 L618.2,255.4 L618.2,252.4 L618.4,249.4 L618.5,246.3 L618.7,243.2 L619.0,240.0 L619.2,235.7 L619.5,231.2 L619.8,226.6 L620.1,221.9 L620.4,217.1 L620.6,212.3 L620.9,207.5 L621.2,202.7 L621.5,197.9 L621.7,193.1 L622.0,188.5 L622.2,183.9 L622.5,179.4 L622.7,175.0 Z" fill="#c0db58"/>
    <path d="M658.7,162.8 L658.4,165.3 L658.1,167.9 L657.8,170.4 L657.5,173.0 L657.3,175.5 L657.0,177.9 L656.6,180.4 L656.3,182.8 L656.0,185.2 L655.6,187.5 L655.3,189.8 L654.9,192.0 L654.4,194.2 L654.0,196.2 L653.2,199.3 L652.3,202.4 L651.4,205.6 L650.4,208.7 L649.3,211.8 L648.2,214.9 L647.1,218.0 L646.0,221.0 L644.8,224.0 L643.7,227.0 L642.6,230.0 L641.4,232.9 L640.3,235.7 L639.3,238.6 L638.1,241.7 L636.9,244.9 L635.8,247.9 L634.7,251.0 L633.7,253.9 L632.7,256.9 L631.7,259.8 L630.8,262.6 L630.0,265.5 L629.2,268.3 L628.5,271.0 L627.8,273.8 L627.2,276.5 L626.7,279.4 L626.3,283.0 L626.0,286.7 L625.7,290.8 L625.5,295.1 L625.2,299.8 L625.1,304.8 L624.9,310.0 L624.9,315.6 L624.8,321.6 L624.8,327.8 L624.8,334.4 L624.8,341.2 L624.8,348.5 L624.8,356.0 L635.2,356.0 L635.3,348.5 L635.3,341.2 L635.3,334.4 L635.3,327.8 L635.3,321.6 L635.4,315.8 L635.4,310.2 L635.5,305.0 L635.6,300.1 L635.6,295.5 L635.8,291.3 L635.9,287.4 L636.1,283.8 L636.3,280.6 L636.7,278.3 L637.2,275.8 L637.8,273.3 L638.4,270.6 L639.1,268.0 L639.8,265.3 L640.6,262.5 L641.4,259.7 L642.3,256.8 L643.2,253.8 L644.2,250.8 L645.2,247.8 L646.3,244.6 L647.3,241.4 L648.3,238.6 L649.3,235.8 L650.4,232.8 L651.4,229.8 L652.5,226.8 L653.5,223.7 L654.6,220.5 L655.6,217.4 L656.6,214.2 L657.6,210.9 L658.5,207.7 L659.4,204.4 L660.2,201.1 L661.0,197.8 L661.4,195.5 L661.7,193.2 L662.1,190.8 L662.4,188.4 L662.6,186.0 L662.9,183.6 L663.1,181.1 L663.3,178.6 L663.5,176.1 L663.7,173.5 L663.9,171.0 L664.0,168.4 L664.2,165.8 L664.3,163.2 Z" fill="#5a962c"/>
    <path d="M659.0,162.8 L658.7,165.4 L658.5,167.9 L658.2,170.5 L657.9,173.0 L657.6,175.5 L657.3,178.0 L657.0,180.4 L656.7,182.9 L656.4,185.2 L656.0,187.6 L655.7,189.9 L655.3,192.1 L654.9,194.3 L654.4,196.3 L653.6,199.4 L652.7,202.6 L651.8,205.7 L650.8,208.8 L649.8,211.9 L648.7,215.0 L647.6,218.1 L646.4,221.2 L645.3,224.2 L644.2,227.2 L643.0,230.1 L641.9,233.0 L640.8,235.9 L639.7,238.7 L638.6,241.9 L637.4,245.0 L636.3,248.1 L635.3,251.1 L634.2,254.1 L633.2,257.0 L632.3,259.9 L631.4,262.8 L630.5,265.6 L629.8,268.4 L629.0,271.2 L628.4,273.9 L627.8,276.6 L627.2,279.5 L626.9,283.0 L626.6,286.8 L626.3,290.8 L626.1,295.2 L625.9,299.8 L625.7,304.8 L625.6,310.1 L625.5,315.6 L625.4,321.6 L625.4,327.8 L625.4,334.4 L625.4,341.2 L625.4,348.5 L625.4,356.0 L632.9,356.0 L632.9,348.5 L632.9,341.2 L633.0,334.4 L633.0,327.8 L633.0,321.6 L633.1,315.7 L633.1,310.2 L633.2,304.9 L633.3,300.0 L633.4,295.4 L633.5,291.2 L633.7,287.2 L634.0,283.6 L634.2,280.3 L634.6,277.9 L635.1,275.4 L635.7,272.8 L636.4,270.1 L637.1,267.4 L637.8,264.7 L638.6,261.9 L639.5,259.0 L640.4,256.1 L641.4,253.2 L642.4,250.2 L643.4,247.1 L644.5,244.0 L645.6,240.8 L646.6,238.0 L647.6,235.1 L648.6,232.2 L649.7,229.2 L650.8,226.2 L651.9,223.1 L652.9,220.0 L654.0,216.8 L655.0,213.6 L656.0,210.4 L656.9,207.2 L657.8,204.0 L658.7,200.7 L659.4,197.4 L659.9,195.2 L660.2,192.9 L660.6,190.6 L660.9,188.2 L661.2,185.8 L661.4,183.4 L661.7,180.9 L661.9,178.5 L662.1,175.9 L662.3,173.4 L662.5,170.8 L662.7,168.3 L662.9,165.7 L663.1,163.1 Z" fill="#93c83a"/>
    <path d="M659.3,162.8 L659.0,165.4 L658.8,167.9 L658.5,170.5 L658.2,173.0 L657.9,175.5 L657.7,178.0 L657.4,180.5 L657.0,182.9 L656.7,185.3 L656.4,187.6 L656.0,189.9 L655.6,192.2 L655.2,194.3 L654.8,196.4 L654.0,199.5 L653.1,202.7 L652.2,205.8 L651.2,208.9 L650.1,212.1 L649.0,215.2 L647.9,218.2 L646.8,221.3 L645.7,224.3 L644.6,227.3 L643.4,230.3 L642.3,233.2 L641.2,236.0 L640.1,238.9 L639.0,242.1 L637.8,245.2 L636.7,248.3 L635.7,251.3 L634.6,254.2 L633.7,257.2 L632.7,260.1 L631.8,262.9 L631.0,265.7 L630.2,268.5 L629.5,271.3 L628.8,274.0 L628.2,276.7 L627.7,279.5 L627.4,283.1 L627.1,286.8 L626.8,290.8 L626.6,295.2 L626.4,299.8 L626.2,304.8 L626.1,310.1 L626.0,315.7 L626.0,321.6 L625.9,327.8 L625.9,334.4 L625.9,341.2 L625.9,348.5 L625.9,356.0 L630.3,356.0 L630.3,348.5 L630.3,341.2 L630.3,334.4 L630.3,327.8 L630.4,321.6 L630.4,315.7 L630.5,310.1 L630.6,304.9 L630.7,300.0 L630.9,295.3 L631.0,291.0 L631.2,287.1 L631.5,283.4 L631.8,280.0 L632.3,277.5 L632.8,274.9 L633.4,272.2 L634.1,269.5 L634.8,266.8 L635.6,264.0 L636.4,261.2 L637.3,258.3 L638.3,255.4 L639.2,252.5 L640.3,249.5 L641.3,246.4 L642.4,243.3 L643.5,240.1 L644.6,237.3 L645.6,234.4 L646.7,231.5 L647.8,228.5 L648.9,225.5 L650.0,222.4 L651.1,219.3 L652.1,216.2 L653.2,213.1 L654.2,209.9 L655.2,206.7 L656.1,203.5 L656.9,200.3 L657.7,197.0 L658.1,194.9 L658.5,192.6 L658.9,190.3 L659.2,188.0 L659.5,185.6 L659.8,183.2 L660.1,180.8 L660.3,178.3 L660.6,175.8 L660.8,173.3 L661.0,170.7 L661.2,168.2 L661.5,165.6 L661.7,163.0 Z" fill="#c0db58"/>
    <path d="M696.5,220.4 L694.9,223.0 L693.5,225.4 L692.2,227.8 L690.8,230.1 L689.5,232.2 L688.3,234.3 L687.1,236.3 L685.9,238.2 L684.7,240.0 L683.6,241.8 L682.5,243.5 L681.4,245.0 L680.3,246.6 L679.1,248.2 L677.7,250.7 L676.3,252.9 L675.0,255.2 L673.7,257.4 L672.3,259.5 L671.0,261.7 L669.7,263.8 L668.4,265.9 L667.1,267.9 L665.8,270.0 L664.6,271.9 L663.3,273.9 L662.1,275.9 L660.8,277.9 L659.5,280.1 L658.3,282.2 L657.1,284.3 L655.9,286.5 L654.7,288.6 L653.6,290.8 L652.5,292.9 L651.3,295.1 L650.2,297.2 L649.1,299.3 L648.0,301.5 L647.0,303.6 L645.9,305.8 L644.9,308.0 L643.9,310.2 L642.9,312.6 L641.9,315.1 L641.0,317.7 L640.1,320.5 L639.3,323.4 L638.6,326.6 L637.8,329.9 L637.1,333.4 L636.4,337.2 L635.8,341.3 L635.1,345.7 L634.4,350.3 L633.8,355.3 L644.2,356.7 L644.8,351.7 L645.5,347.2 L646.1,342.9 L646.8,339.0 L647.4,335.4 L648.1,332.0 L648.8,328.9 L649.5,326.1 L650.2,323.4 L651.0,320.9 L651.7,318.5 L652.5,316.3 L653.3,314.1 L654.1,312.0 L655.0,309.9 L655.9,307.8 L656.9,305.7 L657.8,303.5 L658.8,301.4 L659.8,299.2 L660.8,297.1 L661.8,294.9 L662.9,292.8 L663.9,290.7 L665.0,288.5 L666.0,286.4 L667.1,284.2 L668.2,282.1 L669.3,280.3 L670.5,278.2 L671.6,276.2 L672.8,274.1 L674.0,272.0 L675.2,269.9 L676.4,267.7 L677.6,265.5 L678.8,263.3 L680.1,261.0 L681.3,258.7 L682.5,256.4 L683.8,254.0 L684.9,251.8 L685.8,250.4 L686.9,248.7 L688.0,247.0 L689.0,245.2 L690.1,243.3 L691.2,241.3 L692.3,239.3 L693.4,237.2 L694.5,235.0 L695.7,232.7 L696.9,230.3 L698.1,227.9 L699.3,225.3 L700.5,222.6 Z" fill="#5a962c"/>
    <path d="M696.7,220.6 L695.2,223.1 L693.8,225.6 L692.4,228.0 L691.1,230.2 L689.8,232.4 L688.6,234.5 L687.4,236.5 L686.2,238.4 L685.1,240.2 L683.9,242.0 L682.8,243.7 L681.7,245.3 L680.6,246.8 L679.4,248.4 L678.0,250.9 L676.7,253.1 L675.4,255.4 L674.0,257.6 L672.7,259.8 L671.4,261.9 L670.1,264.0 L668.8,266.1 L667.5,268.2 L666.3,270.2 L665.0,272.2 L663.7,274.2 L662.5,276.1 L661.2,278.1 L660.0,280.3 L658.8,282.5 L657.6,284.6 L656.4,286.7 L655.2,288.9 L654.1,291.0 L653.0,293.2 L651.8,295.3 L650.7,297.5 L649.6,299.6 L648.6,301.7 L647.5,303.9 L646.5,306.0 L645.5,308.2 L644.4,310.5 L643.4,312.8 L642.5,315.3 L641.6,317.9 L640.7,320.7 L639.9,323.6 L639.2,326.7 L638.5,330.0 L637.7,333.6 L637.1,337.3 L636.4,341.4 L635.7,345.8 L635.1,350.4 L634.4,355.4 L641.9,356.4 L642.6,351.4 L643.2,346.8 L643.8,342.6 L644.5,338.6 L645.2,335.0 L645.9,331.6 L646.6,328.4 L647.3,325.5 L648.0,322.7 L648.8,320.2 L649.5,317.8 L650.3,315.5 L651.2,313.3 L652.1,311.1 L653.0,309.0 L654.0,306.9 L654.9,304.7 L655.9,302.6 L656.9,300.5 L657.9,298.3 L659.0,296.2 L660.0,294.0 L661.1,291.9 L662.1,289.7 L663.2,287.6 L664.3,285.4 L665.5,283.3 L666.6,281.2 L667.7,279.3 L668.9,277.3 L670.1,275.3 L671.3,273.2 L672.5,271.1 L673.7,269.0 L674.9,266.9 L676.2,264.7 L677.4,262.5 L678.7,260.2 L679.9,257.9 L681.2,255.6 L682.4,253.3 L683.6,251.0 L684.6,249.5 L685.7,247.9 L686.8,246.2 L687.8,244.4 L688.9,242.6 L690.0,240.7 L691.1,238.6 L692.3,236.6 L693.4,234.4 L694.6,232.1 L695.8,229.8 L697.1,227.3 L698.4,224.8 L699.6,222.1 Z" fill="#93c83a"/>
    <path d="M696.9,220.7 L695.4,223.2 L694.0,225.7 L692.7,228.1 L691.4,230.4 L690.1,232.5 L688.9,234.6 L687.7,236.6 L686.5,238.6 L685.3,240.4 L684.2,242.2 L683.1,243.8 L682.0,245.4 L680.9,247.0 L679.7,248.6 L678.3,251.0 L677.0,253.3 L675.7,255.5 L674.4,257.8 L673.1,259.9 L671.8,262.1 L670.5,264.2 L669.2,266.3 L667.9,268.4 L666.6,270.4 L665.4,272.4 L664.1,274.4 L662.9,276.3 L661.6,278.3 L660.4,280.5 L659.2,282.7 L658.0,284.8 L656.8,286.9 L655.6,289.1 L654.5,291.2 L653.4,293.4 L652.3,295.5 L651.2,297.7 L650.1,299.8 L649.0,301.9 L648.0,304.1 L646.9,306.2 L645.9,308.4 L644.9,310.7 L643.9,313.0 L643.0,315.5 L642.1,318.1 L641.2,320.8 L640.5,323.7 L639.7,326.8 L639.0,330.1 L638.3,333.7 L637.6,337.4 L636.9,341.5 L636.2,345.8 L635.6,350.5 L634.9,355.5 L639.3,356.0 L640.0,351.1 L640.6,346.5 L641.3,342.2 L641.9,338.2 L642.6,334.5 L643.3,331.0 L644.0,327.8 L644.7,324.8 L645.5,322.0 L646.3,319.4 L647.1,316.9 L647.9,314.5 L648.8,312.3 L649.8,310.1 L650.7,308.0 L651.7,305.8 L652.7,303.7 L653.7,301.6 L654.8,299.4 L655.8,297.3 L656.9,295.1 L658.0,293.0 L659.0,290.8 L660.1,288.7 L661.3,286.6 L662.4,284.4 L663.6,282.3 L664.7,280.1 L665.9,278.2 L667.1,276.2 L668.3,274.2 L669.5,272.2 L670.8,270.1 L672.0,268.0 L673.3,265.9 L674.5,263.7 L675.8,261.5 L677.1,259.3 L678.3,257.0 L679.6,254.8 L680.9,252.4 L682.2,250.1 L683.2,248.6 L684.3,247.0 L685.4,245.3 L686.5,243.6 L687.6,241.8 L688.7,239.9 L689.8,237.9 L691.0,235.8 L692.2,233.7 L693.4,231.5 L694.7,229.1 L695.9,226.7 L697.3,224.2 L698.6,221.6 Z" fill="#c0db58"/>
    <!--/FIL-->
  </g>

  <!-- anthers -->
  <g id="anthers">
    <g fill="#f7971f">
      <ellipse cx="428.8" cy="212.0" rx="7.5" ry="14.0" transform="rotate(18 428.8 212.0)"/>
      <ellipse cx="440.3" cy="214.0" rx="8.6" ry="16.0" transform="rotate(18 440.3 214.0)"/>
      <ellipse cx="479.4" cy="145.8" rx="18.5" ry="6.4" transform="rotate(-3 479.4 145.8)"/>
      <ellipse cx="478.0" cy="157.6" rx="19.8" ry="8.9" transform="rotate(-2 478.0 157.6)"/>
      <ellipse cx="521.7" cy="165.5" rx="14.2" ry="5.6"/>
      <ellipse cx="523.4" cy="174.8" rx="15.0" ry="6.7"/>
      <ellipse cx="620.0" cy="159.2" rx="14.0" ry="6.0"/>
      <ellipse cx="618.0" cy="168.3" rx="15.8" ry="7.0"/>
      <ellipse cx="660.0" cy="142.8" rx="18.5" ry="6.8" transform="rotate(3 660.0 142.8)"/>
      <ellipse cx="660.0" cy="153.8" rx="19.6" ry="9.2" transform="rotate(2 660.0 153.8)"/>
      <ellipse cx="701.0" cy="211.5" rx="9.0" ry="15.4" transform="rotate(-18 701.0 211.5)"/>
      <ellipse cx="712.0" cy="208.0" rx="7.2" ry="13.7" transform="rotate(-18 712.0 208.0)"/>
    </g>
    <g fill="#e8891a">
      <ellipse cx="430.3" cy="207.7" rx="4.9" ry="8.7" transform="rotate(18 430.3 207.7)"/>
      <ellipse cx="441.5" cy="211.2" rx="6.3" ry="9.7" transform="rotate(18 441.5 211.2)"/>
      <ellipse cx="473.2" cy="147.7" rx="10.9" ry="5.2" transform="rotate(-6 473.2 147.7)"/>
      <ellipse cx="472.5" cy="158.6" rx="11.1" ry="6.1" transform="rotate(-3 472.5 158.6)"/>
      <ellipse cx="528.1" cy="165.7" rx="9.5" ry="4.4"/>
      <ellipse cx="530.4" cy="173.9" rx="9.3" ry="4.8"/>
      <ellipse cx="612.0" cy="158.4" rx="8.9" ry="4.4"/>
      <ellipse cx="609.9" cy="167.2" rx="9.3" ry="4.9"/>
      <ellipse cx="665.4" cy="142.9" rx="9.9" ry="5.0" transform="rotate(6 665.4 142.9)"/>
      <ellipse cx="665.4" cy="154.8" rx="11.1" ry="6.3" transform="rotate(4 665.4 154.8)"/>
      <ellipse cx="699.9" cy="208.2" rx="6.3" ry="9.0" transform="rotate(-18 699.9 208.2)"/>
      <ellipse cx="711.2" cy="205.2" rx="4.9" ry="8.5" transform="rotate(-18 711.2 205.2)"/>
    </g>
    <g fill="#fbe03c">
      <ellipse cx="429.5" cy="206.5" rx="3.4" ry="7.2" transform="rotate(18 429.5 206.5)"/>
      <ellipse cx="440.7" cy="210.0" rx="4.8" ry="8.2" transform="rotate(18 440.7 210.0)"/>
      <ellipse cx="471.6" cy="147.1" rx="9.4" ry="3.7" transform="rotate(-6 471.6 147.1)"/>
      <ellipse cx="470.9" cy="158.0" rx="9.6" ry="4.6" transform="rotate(-3 470.9 158.0)"/>
      <ellipse cx="526.5" cy="165.1" rx="8.0" ry="2.9"/>
      <ellipse cx="528.8" cy="173.3" rx="7.8" ry="3.3"/>
      <ellipse cx="613.6" cy="157.8" rx="7.4" ry="2.9"/>
      <ellipse cx="611.5" cy="166.6" rx="7.8" ry="3.4"/>
      <ellipse cx="667.0" cy="142.3" rx="8.4" ry="3.5" transform="rotate(6 667.0 142.3)"/>
      <ellipse cx="667.0" cy="154.2" rx="9.6" ry="4.8" transform="rotate(4 667.0 154.2)"/>
      <ellipse cx="700.7" cy="207.0" rx="4.8" ry="7.5" transform="rotate(-18 700.7 207.0)"/>
      <ellipse cx="712.0" cy="204.0" rx="3.4" ry="7.0" transform="rotate(-18 712.0 204.0)"/>
    </g>
  </g>

  <!-- ovary -->
  <g id="ovary">
    <path d="M568.8,254.5 C563.0,255.0 559.0,259.0 555.6,263.0 C550.0,269.0 545.5,274.0 541.3,280.0 C536.5,287.0 532.5,294.0 528.8,301.3 C525.0,309.5 522.5,318.0 520.5,326.0 C518.5,333.0 517.5,340.0 516.8,347.0 C515.5,354.0 514.5,361.0 514.5,368.0 C514.0,395.0 525.0,416.0 542.0,424.0 C550.0,427.5 560.0,428.0 568.8,428.0 C577.6,428.0 587.6,427.5 595.6,424.0 C612.6,416.0 623.6,395.0 623.1,368.0 C623.1,361.0 622.1,354.0 620.8,347.0 C620.1,340.0 619.1,333.0 617.1,326.0 C615.1,318.0 612.6,309.5 608.8,301.3 C605.1,294.0 601.1,287.0 596.3,280.0 C592.1,274.0 587.6,269.0 582.0,263.0 C578.6,259.0 574.6,255.0 568.8,254.5 Z" fill="url(#gOlive)"/>
    <path d="M568.8,267.5 C564.0,267.5 561.0,269.5 558.0,272.5 C553.0,277.5 549.5,282.5 546.6,287.0 C542.5,293.5 539.0,300.0 536.0,306.6 C532.5,313.5 529.0,320.5 526.5,327.0 C523.5,334.0 521.0,341.0 519.7,347.0 C518.2,355.0 517.8,362.0 517.8,368.0 C517.0,393.0 527.0,413.0 543.0,421.5 C551.0,425.0 560.0,425.8 568.8,425.8 C577.6,425.8 586.6,425.0 594.6,421.5 C610.6,413.0 620.6,393.0 619.8,368.0 C619.8,362.0 619.4,355.0 617.9,347.0 C616.6,341.0 614.1,334.0 611.1,327.0 C608.6,320.5 605.1,313.5 601.6,306.6 C598.6,300.0 595.1,293.5 591.0,287.0 C588.1,282.5 584.6,277.5 579.6,272.5 C576.6,269.5 573.6,267.5 568.8,267.5 Z" fill="url(#gYel)"/>
    <path d="M560.500,280.500 C558,281 552,290 547,298 C541,308 537,316 533.500,324.500 C529,336 526,345 525,355 C523,366 522.500,374 523,381 C524,396 532,407 545,412 C555,416.500 583,416.500 593,412 C606,407 614.500,396 615.500,381 C616,374 615.500,366 614,355 C612.500,345 609.500,336 605,324.500 C601.500,316 597.500,308 591.500,298 C586.500,290 580,281.500 577,281 C575.500,281 575,284 574.500,288 L573.600,302 L565.800,302 L564.500,288 C564,284 563,280.500 560.500,280.500 Z" fill="#127442"/>
    <!-- septum and ovules -->
    <g fill="url(#gOv)">
      <path d="M565.800,296 L573.600,296 L572.900,407 C574,411 578,414.500 585,416.500 L553,416.500 C560,414.500 564.500,411 566,407 Z"/>
    </g>
    <g fill="url(#gOv)">
      <!--OV-->
      <path d="M570.5,303.0 C561.3,306.4 554.6,316.1 545.8,329.6 A6.2,6.2 0 0 0 556.2,336.4 C563.6,325.0 558.4,316.5 570.5,303.0 Z"/>
      <path d="M568.5,303.0 C577.3,306.5 583.2,316.1 590.9,329.4 A6.2,6.2 0 0 1 580.1,335.6 C573.7,324.4 579.4,316.4 568.5,303.0 Z"/>
      <path d="M570.5,339.0 C563.1,340.7 558.1,347.5 551.6,356.9 A5.4,5.4 0 0 0 560.4,363.1 C566.0,355.1 561.3,348.1 570.5,339.0 Z"/>
      <path d="M568.5,339.0 C575.8,340.5 580.6,346.9 586.9,355.9 A5.4,5.4 0 0 1 578.1,362.1 C572.8,354.5 577.5,347.6 568.5,339.0 Z"/>
      <path d="M570.5,361.5 C563.8,362.8 559.3,368.8 553.4,377.1 A5.0,5.0 0 0 0 561.6,382.9 C566.5,375.8 562.2,369.5 570.5,361.5 Z"/>
      <path d="M568.5,361.5 C575.1,362.6 579.4,368.2 585.1,376.1 A5.0,5.0 0 0 1 576.9,381.9 C572.2,375.3 576.6,368.9 568.5,361.5 Z"/>
      <path d="M570.5,383.5 C564.0,384.8 559.4,390.6 553.3,398.7 A4.6,4.6 0 0 0 560.7,404.3 C565.8,397.4 562.1,391.3 570.5,383.5 Z"/>
      <path d="M568.5,383.5 C574.6,384.6 578.6,389.9 583.8,397.4 A4.6,4.6 0 0 1 576.2,402.6 C571.9,396.4 575.9,390.6 568.5,383.5 Z"/>
      <!--/OV-->
    </g>
  </g>
</g>

<!-- ================= LABELS ================= -->
<g id="labels">
  <path class="ln" d="M583,100.800 H708"/>
  <path class="ln" d="M583,201.800 H872"/>
  <path class="ln" d="M269,211.700 H432.500"/>
  <path class="ln" d="M344,371.500 L476.500,286"/>
  <path class="ln" d="M621.500,371.800 H869"/>
  <path class="ln" d="M581,395.500 L726,479.500"/>

  <rect class="box" x="708" y="73.750" width="201.300" height="57.900"/>
  <rect class="box" x="872" y="168.750" width="201" height="57.900"/>
  <rect class="box" x="68" y="185.800" width="201.250" height="57.600"/>
  <rect class="box" x="143" y="340" width="201.250" height="57.500"/>
  <rect class="box" x="869" y="343" width="201.900" height="57.600"/>
  <rect class="box" x="725.850" y="450.800" width="202.150" height="57.600"/>

  <text class="lbl" x="808.500" y="110.85">stigma</text>
  <text class="lbl" x="972.700" y="205.85" textLength="52.4" lengthAdjust="spacing">style</text>
  <text class="lbl" x="168.600" y="222.75" textLength="72" lengthAdjust="spacing">anther</text>
  <text class="lbl" x="243.600" y="376.90" textLength="87" lengthAdjust="spacing">filament</text>
  <text class="lbl" x="969.800" y="379.95">ovary</text>
  <text class="lbl" x="827" y="487.75">ovule</text>
</g>
</svg>
</body>
</html>
